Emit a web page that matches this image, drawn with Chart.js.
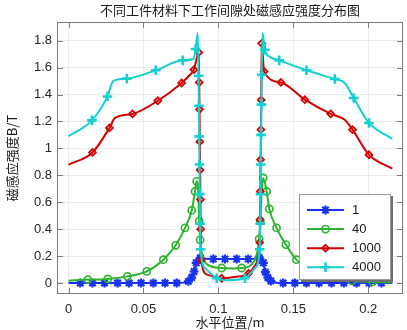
<!DOCTYPE html>
<html>
<head>
<meta charset="utf-8">
<script src="https://cdn.jsdelivr.net/npm/chart.js@4.4.1/dist/chart.umd.min.js"></script>
<style>
  html, body { margin: 0; padding: 0; background: #fff; }
</style>
</head>
<body>
<canvas id="dataChart" width="407" height="330"></canvas>
<script>
// axis ticks
const xTicks = [0, 0.05, 0.1, 0.15, 0.2];
const yTicks = [0, 0.2, 0.4, 0.6, 0.8, 1, 1.2, 1.4, 1.6, 1.8];
const seriesLabels = ["1", "40", "1000", "4000"];
const chartTitle = "不同工件材料下工作间隙处磁感应强度分布图";

// material 1 (blue, *)
const x1 = [0, 0.0078, 0.016, 0.024, 0.0327, 0.0404, 0.0484, 0.0566, 0.0644, 0.0722,
  0.080, 0.0822, 0.0838, 0.0852, 0.0866, 0.088, 0.0966, 0.1044, 0.1122, 0.1199, 0.1272,
  0.1286, 0.130, 0.1314, 0.133, 0.135, 0.138,
  0.1432, 0.151, 0.1588, 0.1672, 0.1755, 0.1837, 0.1922, 0.2005, 0.2088, 0.2161];
const y1 = [0, 0, 0, 0, 0, 0, 0, 0, 0, 0,
  0.012, 0.04, 0.085, 0.15, 0.205, 0.185, 0.178, 0.178, 0.178, 0.178, 0.19,
  0.208, 0.15, 0.08, 0.04, 0.015, 0.004,
  0, 0, 0, 0, 0, 0, 0, 0, 0, 0];
const m1 = [0, 1, 1, 1, 1, 1, 1, 1, 1, 1,
  1, 1, 1, 1, 0, 1, 1, 1, 1, 1, 1,
  0, 1, 1, 1, 1, 0,
  1, 1, 1, 1, 1, 1, 1, 1, 1, 0];

// material 40 (green, o)
const x2 = [0, 0.0129, 0.0262, 0.0393, 0.0522, 0.0633, 0.0715, 0.0777, 0.0822, 0.0844,
  0.0855, 0.0864, 0.0872, 0.0878, 0.0895, 0.0922, 0.1022, 0.109, 0.1155, 0.1244,
  0.1272, 0.128, 0.129, 0.1299, 0.1322, 0.134, 0.1388, 0.145, 0.1521, 0.1625,
  0.1755, 0.189, 0.203, 0.2161];
const y2 = [0.017, 0.025, 0.03, 0.049, 0.086, 0.173, 0.28, 0.409, 0.539, 0.68,
  0.755, 0.70, 0.46, 0.32, 0.2, 0.14, 0.111, 0.108, 0.111, 0.17,
  0.327, 0.46, 0.70, 0.78, 0.68, 0.55, 0.409, 0.285, 0.173, 0.09,
  0.04, 0.015, 0.008, 0.005];
const m2 = [0, 1, 1, 1, 1, 1, 1, 1, 1, 1,
  1, 0, 1, 1, 0, 0, 1, 0, 1, 0,
  1, 1, 0, 1, 1, 1, 1, 1, 1, 1,
  1, 1, 1, 0];

// material 1000 (red, diamond)
const x3 = [0, 0.016, 0.0273, 0.031, 0.0427, 0.0596, 0.0755, 0.081, 0.0837, 0.0869,
  0.0872, 0.0874, 0.0876, 0.0878, 0.088, 0.0882, 0.0885,
  0.093, 0.1022, 0.111, 0.12, 0.1255,
  0.1276, 0.1278, 0.128, 0.1282, 0.1284, 0.1286, 0.1289,
  0.1305, 0.1417, 0.1577, 0.175, 0.1843, 0.1895, 0.2005, 0.2161];
const y3 = [0.879, 0.97, 1.152, 1.226, 1.256, 1.354, 1.486, 1.547, 1.585, 1.713,
  1.49, 1.29, 1.05, 0.84, 0.62, 0.40, 0.17,
  0.06, 0.035, 0.045, 0.07, 0.15,
  0.30, 0.47, 0.68, 0.916, 1.139, 1.36, 1.78,
  1.572, 1.49, 1.362, 1.256, 1.213, 1.139, 0.953, 0.849];
const m3 = [0, 1, 1, 0, 1, 1, 1, 0, 1, 1,
  1, 1, 1, 1, 1, 1, 1,
  0, 1, 0, 1, 0,
  1, 1, 1, 1, 1, 1, 1,
  1, 1, 1, 1, 0, 1, 1, 0];

// material 4000 (cyan, +)
const x4 = [0, 0.0156, 0.026, 0.0298, 0.0389, 0.0582, 0.0762, 0.0833, 0.0848, 0.0862,
  0.0868, 0.087, 0.0872, 0.0874, 0.0876, 0.0878, 0.0881,
  0.0912, 0.0989, 0.105, 0.1177, 0.1244,
  0.1276, 0.1279, 0.1281, 0.1283, 0.1285, 0.1287, 0.1289,
  0.1295, 0.131, 0.1344, 0.1406, 0.1588, 0.1777, 0.1843, 0.1903, 0.2005, 0.2161];
const y4 = [1.09, 1.208, 1.386, 1.50, 1.518, 1.58, 1.654, 1.664, 1.738, 1.857,
  1.54, 1.317, 1.089, 0.88, 0.66, 0.44, 0.25,
  0.11, 0.035, 0.02, 0.035, 0.11,
  0.25, 0.44, 0.66, 0.88, 1.10, 1.325, 1.547,
  1.857, 1.733, 1.68, 1.654, 1.58, 1.515, 1.486, 1.374, 1.189, 1.07];
const m4 = [0, 1, 1, 0, 1, 1, 1, 0, 1, 0,
  1, 1, 1, 1, 1, 1, 1,
  0, 1, 0, 1, 0,
  1, 1, 1, 1, 1, 1, 1,
  0, 1, 0, 1, 1, 1, 0, 1, 1, 0];

const tickFont = { family: "'Liberation Sans', Arial, sans-serif", size: 13 };
const cjkFont = { family: "'Noto Sans CJK SC', 'Liberation Sans', sans-serif", size: 13, weight: "normal" };

function makeSeries(label, xs, ys, marks, color, style, radius, width, order) {
  return {
    label: label,
    data: xs.map((x, i) => ({ x: x, y: ys[i] })),
    borderColor: color,
    backgroundColor: "rgba(0,0,0,0)",
    borderWidth: 2,
    pointStyle: style,
    pointRadius: marks.map((m) => (m ? radius : 0)),
    pointBorderWidth: width,
    pointBorderColor: color,
    pointBackgroundColor: "rgba(0,0,0,0)",
    cubicInterpolationMode: "monotone",
    order: order,
  };
}

const datasets = [
  makeSeries(seriesLabels[0], x1, y1, m1, "#1733f0", "star", 4.5, 2.2, 4),
  makeSeries(seriesLabels[1], x2, y2, m2, "#2db32d", "circle", 3.6, 1.6, 3),
  makeSeries(seriesLabels[2], x3, y3, m3, "#d40000", "rectRot", 3.4, 1.8, 2),
  makeSeries(seriesLabels[3], x4, y4, m4, "#12cfd2", "cross", 4.8, 2.6, 1),
];

// box with inward ticks like MATLAB, title and legend
const frame = {
  id: "frame",
  afterDraw(chart) {
    const { ctx, chartArea: a, scales } = chart;
    ctx.save();
    ctx.strokeStyle = "#7d7d7d";
    ctx.lineWidth = 1;
    ctx.strokeRect(a.left + 0.5, a.top + 0.5, a.right - a.left - 1, a.bottom - a.top - 1);
    ctx.beginPath();
    xTicks.forEach((v) => {
      const px = Math.round(scales.x.getPixelForValue(v)) + 0.5;
      ctx.moveTo(px, a.top); ctx.lineTo(px, a.top + 6);
      ctx.moveTo(px, a.bottom); ctx.lineTo(px, a.bottom - 6);
    });
    yTicks.forEach((v) => {
      const py = Math.round(scales.y.getPixelForValue(v)) + 0.5;
      ctx.moveTo(a.left, py); ctx.lineTo(a.left + 6, py);
      ctx.moveTo(a.right, py); ctx.lineTo(a.right - 6, py);
    });
    ctx.stroke();

    ctx.fillStyle = "#1a1a1a";
    ctx.font = "13px 'Noto Sans CJK SC', sans-serif";
    ctx.textAlign = "center";
    ctx.textBaseline = "middle";
    ctx.fillText(chartTitle, (a.left + a.right) / 2, 10);

    // legend box
    const lx = 299, ly = 194, lw = 92, lh = 86;
    ctx.fillStyle = "#6e6e6e";
    ctx.fillRect(lx + 2, ly + 2, lw, lh);
    ctx.fillStyle = "#fff";
    ctx.fillRect(lx, ly, lw, lh);
    ctx.strokeStyle = "#9a9a9a";
    ctx.strokeRect(lx + 0.5, ly + 0.5, lw - 1, lh - 1);
    chart.data.datasets.forEach((ds, i) => {
      const rowY = 210 + i * 19.1;
      ctx.strokeStyle = ds.borderColor;
      ctx.lineWidth = 2;
      ctx.beginPath();
      ctx.moveTo(307, rowY); ctx.lineTo(344, rowY);
      ctx.stroke();
      ctx.fillStyle = "rgba(0,0,0,0)";
      ctx.lineWidth = ds.pointBorderWidth;
      Chart.helpers.drawPoint(ctx, {
        pointStyle: ds.pointStyle,
        radius: Math.max(...ds.pointRadius),
        rotation: 0,
        borderWidth: ds.pointBorderWidth,
      }, 325.5, rowY);
      ctx.fillStyle = "#1a1a1a";
      ctx.font = "13px 'Liberation Sans', Arial, sans-serif";
      ctx.textBaseline = "middle";
      ctx.textAlign = "left";
      ctx.fillText(ds.label, 352, rowY + 0.5);
    });
    ctx.restore();
  },
};

function renderChart() {
  const ctx = document.getElementById("dataChart").getContext("2d");
  new Chart(ctx, {
    type: "line",
    data: { datasets: datasets },
    plugins: [frame],
    options: {
      responsive: false,
      animation: false,
      events: [],
      layout: { padding: { left: 0, right: 4, top: 22, bottom: 0 } },
      plugins: {
        legend: { display: false },
        tooltip: { enabled: false },
        title: { display: false },
      },
      scales: {
        x: {
          type: "linear",
          min: -0.0077,
          max: 0.2232,
          afterBuildTicks: (axis) => { axis.ticks = xTicks.map((v) => ({ value: v })); },
          afterFit: (axis) => { axis.height = 36; },
          grid: { color: "#ebebeb", drawTicks: false },
          border: { display: false },
          ticks: {
            color: "#262626",
            font: tickFont,
            padding: 8,
            maxRotation: 0,
            callback: (v) => String(v),
          },
          title: {
            display: true,
            text: "水平位置/m",
            color: "#1a1a1a",
            font: cjkFont,
            padding: { top: 0, bottom: 0 },
          },
        },
        y: {
          type: "linear",
          min: -0.082,
          max: 1.939,
          afterBuildTicks: (axis) => { axis.ticks = yTicks.map((v) => ({ value: v })); },
          afterFit: (axis) => { axis.width = 57; },
          grid: { color: "#ebebeb", drawTicks: false },
          border: { display: false },
          ticks: {
            color: "#262626",
            font: tickFont,
            padding: 5,
            callback: (v) => String(v),
          },
          title: {
            display: true,
            text: "磁感应强度B/T",
            color: "#1a1a1a",
            font: cjkFont,
            padding: { top: 4, bottom: 4 },
          },
        },
      },
    },
  });
}

renderChart();
</script>
</body>
</html>
